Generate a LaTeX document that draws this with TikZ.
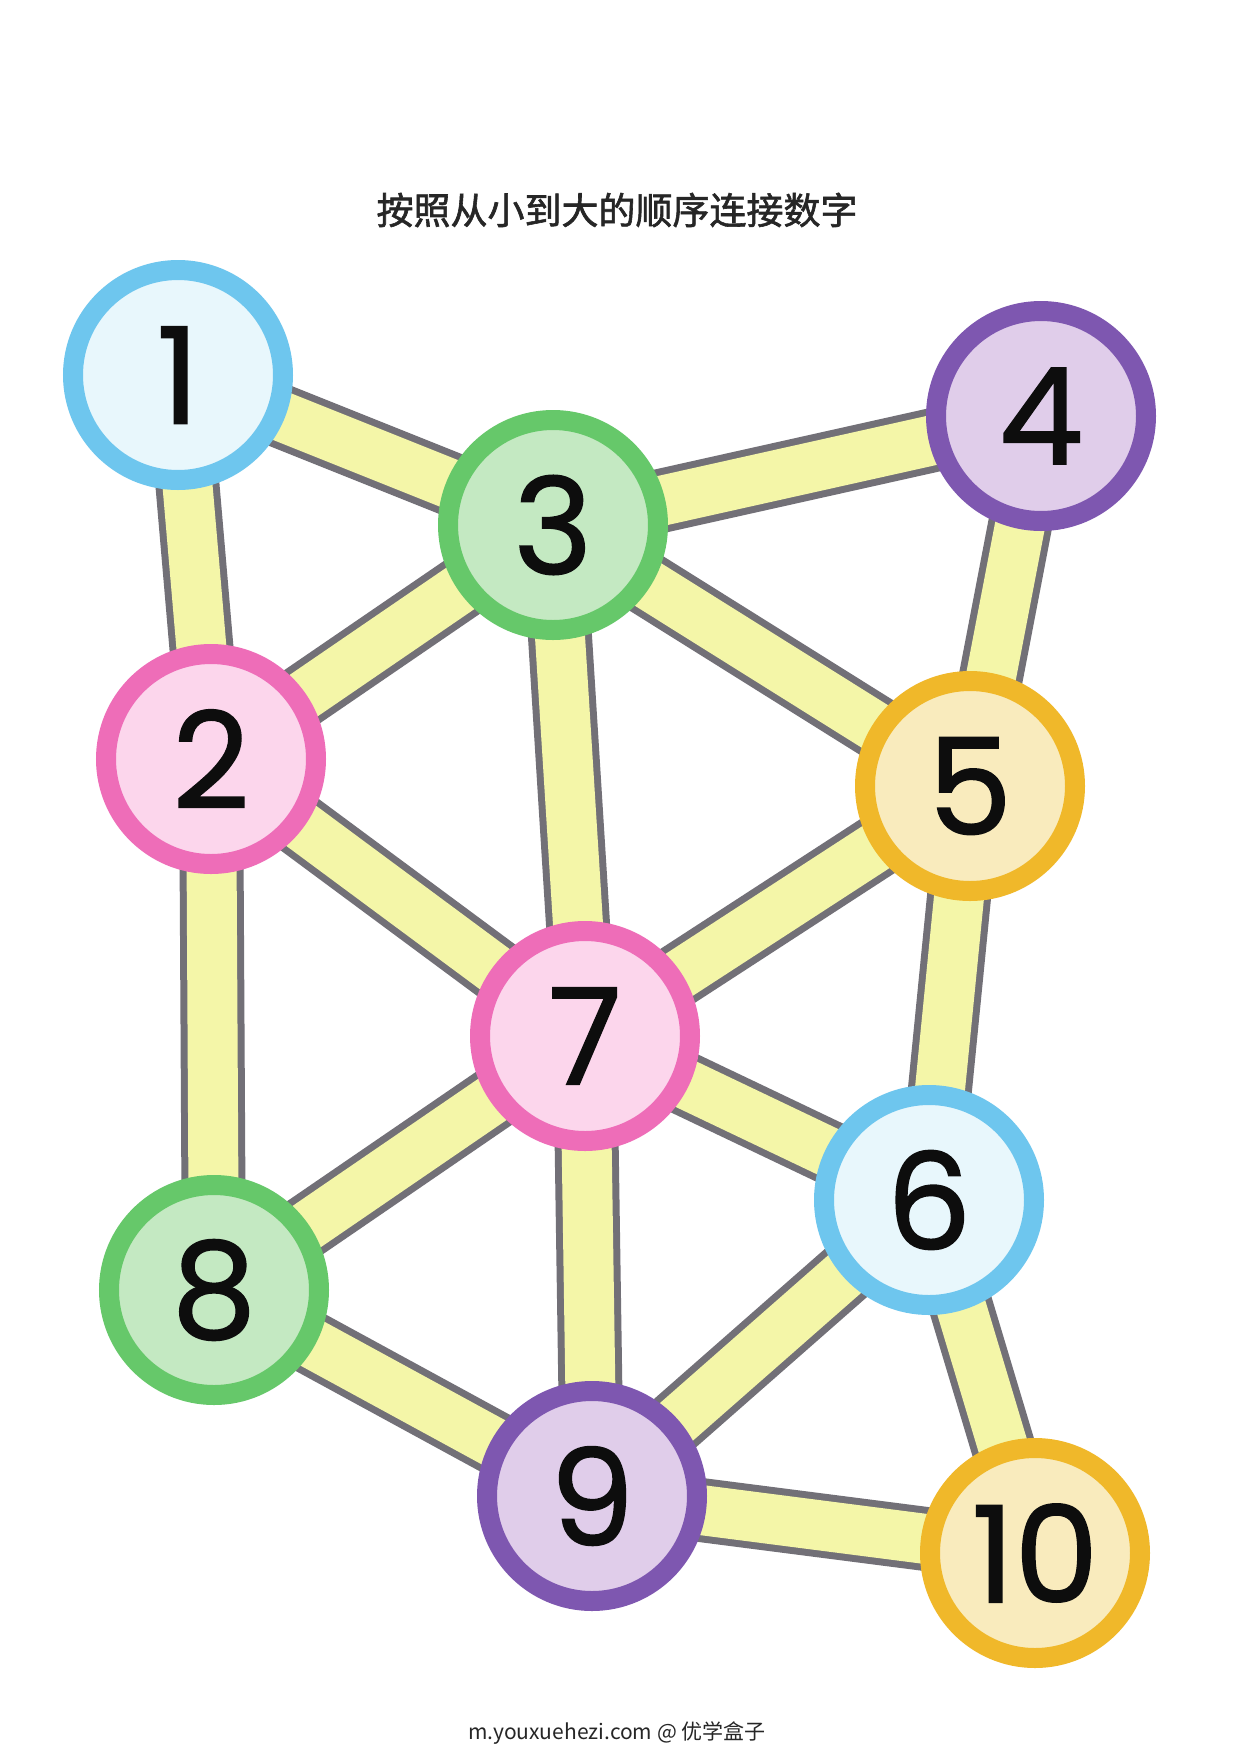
\documentclass[tikz,border=0pt]{standalone}
\usepackage{fontspec}
\setmainfont{Poppins}
\newfontfamily\digitfont{Poppins}[FakeBold=1.2]
\newfontfamily\cjk{Noto Sans CJK SC}
\newfontfamily\cjktitle{Noto Sans CJK SC}[FakeBold=1.6]
\definecolor{bandY}{HTML}{F4F6A8}
\definecolor{bandG}{HTML}{727077}
\definecolor{blueR}{HTML}{6EC6EE}\definecolor{blueF}{HTML}{E8F7FC}
\definecolor{greenR}{HTML}{66C86A}\definecolor{greenF}{HTML}{C4E9C2}
\definecolor{purpR}{HTML}{7E57B0}\definecolor{purpF}{HTML}{E0CDEA}
\definecolor{pinkR}{HTML}{EE6DB8}\definecolor{pinkF}{HTML}{FCD6EC}
\definecolor{oranR}{HTML}{F0B82A}\definecolor{oranF}{HTML}{F9EBBD}
\tikzset{
  numnode/.style={circle, minimum size=210pt, inner sep=0pt, line width=20pt, font=\digitfont\fontsize{134}{134}\selectfont, text=black!95},
  nblue/.style={numnode, draw=blueR, fill=blueF},
  ngreen/.style={numnode, draw=greenR, fill=greenF},
  npurp/.style={numnode, draw=purpR, fill=purpF},
  npink/.style={numnode, draw=pinkR, fill=pinkF},
  noran/.style={numnode, draw=oranR, fill=oranF},
  bandout/.style={draw=bandG, line width=64pt},
  bandin/.style={draw=bandY, line width=50pt},
}
\begin{document}
\begin{tikzpicture}[x=1pt,y=-1pt]
\useasboundingbox[fill=white] (0,0) rectangle (1240,1754);
\node[font=\cjktitle\fontsize{37}{37}\selectfont, text=black!85] (title) at (617,210) {按照从小到大的顺序连接数字};
\node[font=\cjk\fontsize{21}{21}\selectfont, text=black!85] (foot) at (617,1733) {m.youxuehezi.com @ 优学盒子};
% coordinates of nodes
\coordinate (p1) at (178,375);
\coordinate (p2) at (211,759);
\coordinate (p3) at (553,525);
\coordinate (p4) at (1041,416);
\coordinate (p5) at (970,786);
\coordinate (p6) at (929,1200);
\coordinate (p7) at (585,1036);
\coordinate (p8) at (214,1290);
\coordinate (p9) at (592,1496);
\coordinate (p10) at (1035,1553);
\foreach \s in {bandout,bandin}{
  \foreach \a/\b in {p1/p3,p1/p2,p3/p4,p3/p2,p3/p5,p3/p7,p4/p5,p2/p7,p2/p8,p5/p7,p5/p6,p7/p6,p7/p8,p7/p9,p8/p9,p9/p6,p6/p10,p9/p10}{
    \draw[\s] (\a) -- (\b);
  }
}
\node[nblue] (n1) at (p1) {1};
\node[npink] (n2) at (p2) {2};
\node[ngreen] (n3) at (p3) {3};
\node[npurp] (n4) at (p4) {4};
\node[noran] (n5) at (p5) {5};
\node[nblue] (n6) at (p6) {6};
\node[npink] (n7) at (p7) {7};
\node[ngreen] (n8) at (p8) {8};
\node[npurp] (n9) at (p9) {9};
\node[noran] (n10) at (p10) {10};
\end{tikzpicture}
\end{document}
